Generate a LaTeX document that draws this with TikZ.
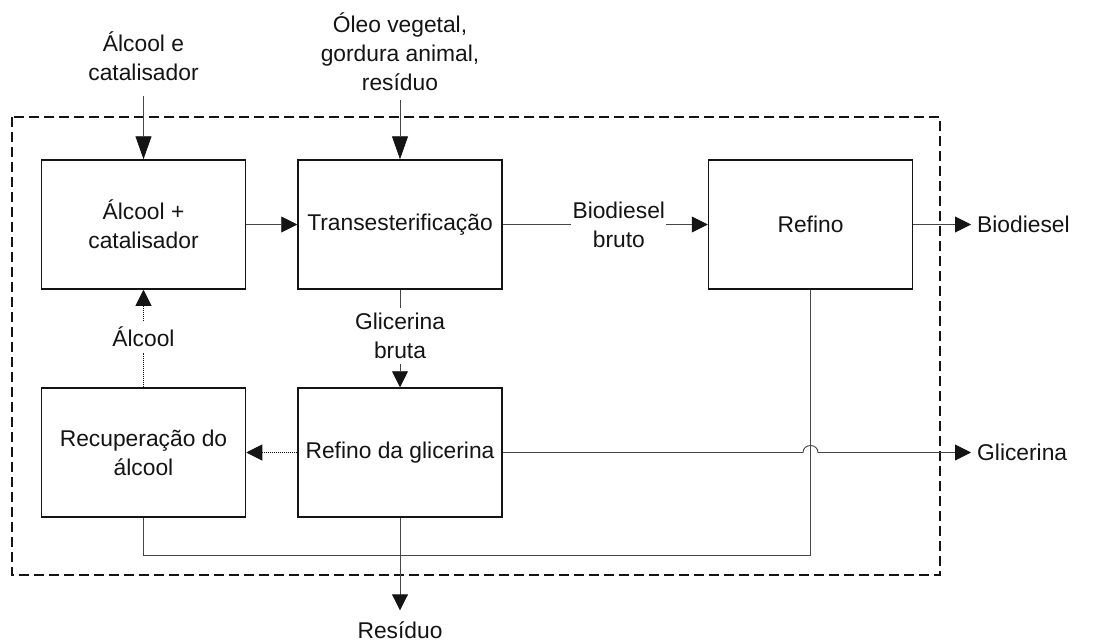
\documentclass[tikz,border=0pt]{standalone}
\usepackage{fontspec}
\setmainfont{Liberation Sans}
\usetikzlibrary{arrows.meta}
\definecolor{linegray}{RGB}{70,70,70}
\definecolor{ink}{RGB}{20,20,20}
\tikzset{
  procbox/.style={draw=ink, line width=1.5pt, minimum width=204pt, minimum height=129pt, inner sep=0pt, align=center, font=\fontsize{22.8}{29}\selectfont, text=ink},
  lbl/.style={align=center, font=\fontsize{22.8}{29}\selectfont, text=ink, inner sep=0pt},
  conn/.style={draw=linegray, line width=0.9pt},
  tip/.style={-{Triangle[length=16pt,width=16pt,color=ink]}},
  longtip/.style={-{Triangle[length=23pt,width=16pt,color=ink]}},
  dotline/.style={draw=ink, line width=1pt, dash pattern=on 1pt off 1pt},
  frame/.style={draw=ink, line width=1.7pt, dash pattern=on 10pt off 5pt},
}
\begin{document}
\begin{tikzpicture}[x=1pt,y=-1pt]
\useasboundingbox (0,0) rectangle (1103,642);
% frame
\draw[frame] (12,117) rectangle (940,575);
% boxes
\node[procbox] (b1) at (143.5,224.5) {Álcool +\\catalisador};
\node[procbox] (b2) at (400,224.5) {Transesterificação};
\node[procbox] (b3) at (810.5,224.5) {Refino};
\node[procbox] (b4) at (143.5,452.5) {Recuperação do\\álcool};
\node[procbox] (b5) at (400,452.5) {Refino da glicerina};
% labels
\node[lbl] (t1) at (143.5,56) {Álcool e\\catalisador};
\node[lbl] (t2) at (400,51.5) {Óleo vegetal,\\gordura animal,\\resíduo};
\node[lbl, inner xsep=1pt] (bb) at (618.8,224.5) {Biodiesel\\bruto};
\node[lbl, inner ysep=5pt] (gb) at (400,336) {Glicerina\\bruta};
\node[lbl, inner ysep=6pt] (alc) at (143.5,337) {Álcool};
\node[lbl, anchor=west, inner xsep=6pt] (bio) at (971,224.5) {Biodiesel};
\node[lbl, anchor=west, inner xsep=6pt] (gli) at (971,452.5) {Glicerina};
\node[lbl, inner ysep=11pt] (res) at (400,630) {Resíduo};
\coordinate (in1) at (143.5,96);
\coordinate (in2) at (400,100);
% connectors
\draw[conn, longtip] (in1) -- (b1.north);
\draw[conn, longtip] (in2) -- (b2.north);
\draw[conn, tip] (b1.east) -- (b2.west);
\draw[conn] (b2.east) -- (bb.west);
\draw[conn, tip] (bb.east) -- (b3.west);
\draw[conn, tip] (b3.east) -- (bio.west);
\draw[conn] (b2.south) -- (gb.north);
\draw[conn, tip] (gb.south) -- (b5.north);
\draw[dotline] (b4.north) -- (alc.south);
\draw[dotline, tip] (alc.north) -- (b1.south);
\draw[dotline, tip] (b5.west) -- (b4.east);
\draw[conn, tip] (b5.east) -- (803,452.5) .. controls (803,443.2) and (818,443.2) .. (818,452.5) -- (gli.west);
\draw[conn] (b3.south) -- (810.5,555) -- (143.5,555) -- (b4.south);
\draw[conn, tip] (b5.south) -- (res.north);
\end{tikzpicture}
\end{document}
